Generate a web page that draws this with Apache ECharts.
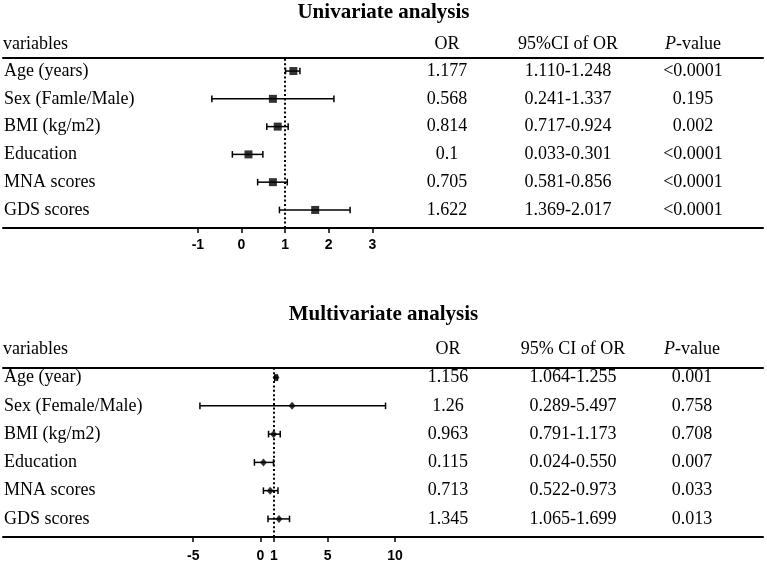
<!DOCTYPE html>
<html><head><meta charset="utf-8">
<script src="https://cdn.jsdelivr.net/npm/echarts@6/dist/echarts.min.js"></script>
<style>html,body{margin:0;padding:0;background:#fff}#c{width:767px;height:562px}</style>
</head><body><div id="c"></div>
<script>
// ---------- Data: Univariate ----------
const title1 = 'Univariate analysis';
const headers1 = ['variables', 'OR', '95%CI of OR', '{i|P}-value'];
const names1 = ['Age (years)', 'Sex (Famle/Male)', 'BMI (kg/m2)', 'Education', 'MNA scores', 'GDS scores'];
const orText1 = ['1.177', '0.568', '0.814', '0.1', '0.705', '1.622'];
const ciText1 = ['1.110-1.248', '0.241-1.337', '0.717-0.924', '0.033-0.301', '0.581-0.856', '1.369-2.017'];
const pText1 = ['<0.0001', '0.195', '0.002', '<0.0001', '<0.0001', '<0.0001'];
const est1 = [1.19, 0.72, 0.83, 0.16, 0.72, 1.69];
const lo1 = [1.01, -0.68, 0.58, -0.21, 0.37, 0.87];
const hi1 = [1.34, 2.12, 1.07, 0.49, 1.05, 2.49];
const ticks1 = [-1, 0, 1, 2, 3];

// ---------- Data: Multivariate ----------
const title2 = 'Multivariate analysis';
const headers2 = ['variables', 'OR', '95% CI of OR', '{i|P}-value'];
const names2 = ['Age (year)', 'Sex (Female/Male)', 'BMI (kg/m2)', 'Education', 'MNA scores', 'GDS scores'];
const orText2 = ['1.156', '1.26', '0.963', '0.115', '0.713', '1.345'];
const ciText2 = ['1.064-1.255', '0.289-5.497', '0.791-1.173', '0.024-0.550', '0.522-0.973', '1.065-1.699'];
const pText2 = ['0.001', '0.758', '0.708', '0.007', '0.033', '0.013'];
const est2 = [1.16, 2.35, 0.97, 0.22, 0.72, 1.38];
const lo2 = [1.06, -4.5, 0.6, -0.45, 0.22, 0.56];
const hi2 = [1.26, 9.3, 1.47, 0.97, 1.3, 2.16];
const ticks2 = [-5, 0, 1, 5, 10];

const refValue = 1;

// ---------- Styling / layout ----------
const SERIF = 'Liberation Serif';
const SANS = 'Liberation Sans';
const GRID_LEFT = 3, GRID_RIGHT = 4;

function panel(pi, d, L) {
  const n = d.names.length;
  const rows = d.names.map((_, i) => n - 1 - i);
  const rowVals = d.names.map((_, i) => i);
  const xi = pi * 2, yi = pi * 4;
  const grid = { left: GRID_LEFT, right: GRID_RIGHT, top: L.top, height: L.height, outerBoundsMode: 'none', containLabel: false };
  const xAxes = [
    { gridIndex: pi, type: 'value', position: 'bottom', min: L.xMin, max: L.xMax,
      axisLine: { show: true, onZero: false, lineStyle: { color: '#000', width: 2 } },
      axisTick: { show: true, customValues: d.ticks, length: 5, lineStyle: { color: '#000', width: 1.5 } },
      axisLabel: { customValues: d.ticks, margin: L.labelMargin, color: '#000', fontFamily: SANS, fontWeight: 'bold', fontSize: 14 },
      splitLine: { show: false } },
    { gridIndex: pi, type: 'value', position: 'top', min: L.xMin, max: L.xMax,
      axisLine: { show: true, onZero: false, lineStyle: { color: '#000', width: 2 } },
      axisTick: { show: false }, axisLabel: { show: false }, splitLine: { show: false } }
  ];
  const cols = [d.names, d.orText, d.ciText, d.pText];
  const yAxes = cols.map((col, ci) => ({
    gridIndex: pi, type: 'value', position: 'left', min: L.yMin, max: L.yMax,
    offset: GRID_LEFT - L.colX[ci],
    name: d.headers[ci], nameLocation: 'end', nameGap: L.nameGap, nameMoveOverlap: false,
    nameTextStyle: { fontFamily: SERIF, fontSize: 18, color: '#000', align: ci === 0 ? 'left' : 'center',
      rich: { i: { fontFamily: SERIF, fontSize: 18, fontStyle: 'italic', color: '#000' } } },
    axisLine: { show: false, onZero: false }, axisTick: { show: false }, splitLine: { show: false },
    axisLabel: { customValues: rowVals, margin: ci === 0 ? -1 : 0, align: ci === 0 ? 'left' : 'center',
      color: '#000', fontFamily: SERIF, fontSize: 18,
      formatter: v => col[n - 1 - Math.round(v)] }
  }));
  const series = [
    { type: 'custom', xAxisIndex: xi, yAxisIndex: yi, silent: true,
      data: d.lo.map((v, i) => [v, rows[i], d.hi[i]]),
      encode: { x: [0, 2], y: 1 },
      renderItem: (params, api) => {
        const a = api.coord([api.value(0), api.value(1)]);
        const b = api.coord([api.value(2), api.value(1)]);
        const h = 3.3;
        const st = { stroke: '#000', lineWidth: 1.5 };
        return { type: 'group', children: [
          { type: 'line', shape: { x1: a[0], y1: a[1], x2: b[0], y2: b[1] }, style: st },
          { type: 'line', shape: { x1: a[0], y1: a[1] - h, x2: a[0], y2: a[1] + h }, style: st },
          { type: 'line', shape: { x1: b[0], y1: b[1] - h, x2: b[0], y2: b[1] + h }, style: st }
        ] };
      },
      markLine: { silent: true, symbol: ['none', 'none'], label: { show: false },
        lineStyle: { color: '#000', type: [2, 2.4], width: 2 }, data: [{ xAxis: refValue }] }
    },
    { type: 'scatter', xAxisIndex: xi, yAxisIndex: yi, silent: true,
      symbol: L.symbol, symbolSize: L.symbolSize, itemStyle: { color: '#000' },
      data: d.est.map((v, i) => [v, rows[i]]) }
  ];
  const title = { text: d.title, left: 'center', top: L.titleTop, padding: 0,
    textStyle: { fontFamily: SERIF, fontWeight: 'bold', fontSize: 21, color: '#000' } };
  return { grid, xAxes, yAxes, series, title };
}

const p1 = panel(0, { title: title1, headers: headers1, names: names1, orText: orText1, ciText: ciText1, pText: pText1,
  est: est1, lo: lo1, hi: hi1, ticks: ticks1 },
  { top: 58, height: 170, xMin: -5.47, xMax: 11.96, yMin: -0.65, yMax: 5.47, colX: [3, 447, 568, 693],
    nameGap: 5, labelMargin: 10, symbol: 'rect', symbolSize: 8, titleTop: 2 });
const p2 = panel(1, { title: title2, headers: headers2, names: names2, orText: orText2, ciText: ciText2, pText: pText2,
  est: est2, lo: lo2, hi: hi2, ticks: ticks2 },
  { top: 368, height: 169, xMin: -19.14, xMax: 37.36, yMin: -0.64, yMax: 5.34, colX: [3, 448, 573, 692],
    nameGap: 10, labelMargin: 12, symbol: 'diamond', symbolSize: [7, 8], titleTop: 304 });

const chart = echarts.init(document.getElementById('c'), null, { renderer: 'canvas' });
chart.setOption({
  animation: false,
  backgroundColor: '#fff',
  title: [p1.title, p2.title],
  grid: [p1.grid, p2.grid],
  xAxis: [...p1.xAxes, ...p2.xAxes],
  yAxis: [...p1.yAxes, ...p2.yAxes],
  series: [...p1.series, ...p2.series]
});
</script></body></html>
